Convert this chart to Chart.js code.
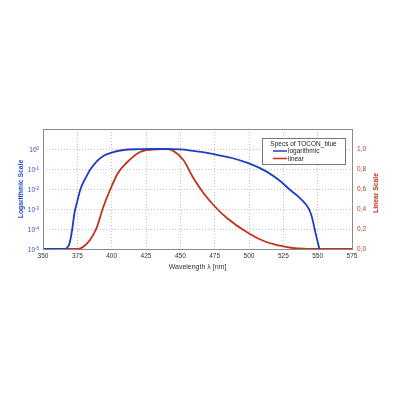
<!DOCTYPE html>
<html>
<head>
<meta charset="utf-8">
<script src="https://cdn.jsdelivr.net/npm/chart.js@4"></script>
<style>
  html, body { margin: 0; padding: 0; background: #fff; }
  #wrap { width: 400px; height: 400px; }
</style>
</head>
<body>
<div id="wrap"><canvas id="grafico" width="400" height="400"></canvas></div>
<script>
// x ticks / axis
const xMin = 350, xMax = 575, xStep = 25;

// logarithmic series (left axis)
const blueNm = [350, 366, 368, 369.3, 371.2, 372.9, 375, 377, 379, 381, 384.2, 389, 393.9, 400, 408.5, 420.6, 430, 440, 450, 465, 475, 487.5, 500, 512.5, 522.7, 530, 537.3, 543.4, 545.8, 548.2, 551.3];
const blueVal = [1e-5, 1e-5, 1.26e-5, 1.9e-5, 8.9e-5, 6.3e-4, 2.5e-3, 8.5e-3, 0.019, 0.035, 0.089, 0.234, 0.447, 0.66, 0.89, 0.98, 1.0, 1.0, 0.95, 0.71, 0.54, 0.355, 0.19, 0.076, 0.025, 0.0089, 0.0034, 0.00107, 4e-4, 7.4e-5, 1e-5];

// linear series (right axis)
const redNm = [350, 375.7, 379.3, 384.2, 389, 393.9, 398.8, 404.6, 410.7, 420.6, 430, 440, 443.7, 452.2, 459.5, 466.8, 474.1, 483.9, 500, 512.5, 522.7, 532, 541.8, 550, 575];
const redVal = [0, 0, 0.023, 0.09, 0.21, 0.42, 0.59, 0.76, 0.86, 0.97, 0.995, 1.0, 0.99, 0.89, 0.71, 0.56, 0.44, 0.31, 0.155, 0.07, 0.033, 0.01, 0.002, 0, 0];

// log axis ticks: base and exponent drawn as 10^exp
const logTicks = [1e-5, 1e-4, 1e-3, 1e-2, 1e-1, 1, 10];
const logExp = ["-5", "-4", "-3", "-2", "-1", "0", ""];

const legendTitle = "Specs of TOCON_blue";
const rightTitle = "Linear Scale";
const blue = "#1f3fbf";
const red = "#c0321e";
const fam = "'Liberation Sans', Arial, sans-serif";

const pontos = (xs, ys) => xs.map((x, i) => ({ x, y: ys[i] }));

const moldura = {
  id: "moldura",
  afterDraw(chart) {
    const { ctx, chartArea: a } = chart;
    ctx.save();
    ctx.strokeStyle = "#8a8a8a";
    ctx.lineWidth = 1;
    ctx.strokeRect(Math.round(a.left) + 0.5, Math.round(a.top) + 0.5,
      Math.round(a.right - a.left), Math.round(a.bottom - a.top));

    // log tick labels with raised exponent
    const ys = chart.scales.y;
    ctx.fillStyle = "#2f55c4";
    ctx.textBaseline = "alphabetic";
    logTicks.forEach((v, i) => {
      if (!logExp[i]) return;
      const py = ys.getPixelForValue(v);
      ctx.font = "4.5px " + fam;
      const ew = ctx.measureText(logExp[i]).width;
      const ex = a.left - 4 - ew;
      ctx.textAlign = "left";
      ctx.fillText(logExp[i], ex, py + 0.5);
      ctx.font = "6.5px " + fam;
      ctx.textAlign = "right";
      ctx.fillText("10", ex, py + 2.5);
    });

    // right axis title, reading bottom to top
    ctx.save();
    ctx.translate(376, (a.top + a.bottom) / 2 + 4);
    ctx.rotate(-Math.PI / 2);
    ctx.font = "bold 6.8px " + fam;
    ctx.fillStyle = red;
    ctx.textAlign = "center";
    ctx.textBaseline = "middle";
    ctx.fillText(rightTitle, 0, 0);
    ctx.restore();

    // legend box inside plot
    const bx = 262, by = 138, bw = 83, bh = 26;
    ctx.fillStyle = "#fff";
    ctx.fillRect(bx, by, bw, bh);
    ctx.strokeStyle = "#777";
    ctx.strokeRect(bx + 0.5, by + 0.5, bw, bh);
    ctx.fillStyle = "#222";
    ctx.font = "6.5px " + fam;
    ctx.textAlign = "center";
    ctx.textBaseline = "middle";
    ctx.fillText(legendTitle, bx + bw / 2, by + 6);
    ctx.textAlign = "left";
    chart.data.datasets.forEach((ds, i) => {
      const y = by + 13 + i * 7.5;
      ctx.strokeStyle = ds.borderColor;
      ctx.lineWidth = 1.5;
      ctx.beginPath();
      ctx.moveTo(bx + 11, y);
      ctx.lineTo(bx + 25, y);
      ctx.stroke();
      ctx.fillStyle = "#222";
      ctx.fillText(ds.label, bx + 26, y + 0.5);
    });
    ctx.restore();
  }
};

const grade = { color: "#c4c4c4", lineWidth: 1, drawTicks: false };

new Chart(document.getElementById("grafico").getContext("2d"), {
  type: "line",
  data: {
    datasets: [
      {
        label: "logarithmic",
        data: pontos(blueNm, blueVal),
        yAxisID: "y",
        borderColor: blue,
        borderWidth: 1.8,
        pointRadius: 0,
        cubicInterpolationMode: "monotone",
        fill: false
      },
      {
        label: "linear",
        data: pontos(redNm, redVal),
        yAxisID: "y1",
        borderColor: red,
        borderWidth: 1.8,
        pointRadius: 0,
        cubicInterpolationMode: "monotone",
        fill: false
      }
    ]
  },
  options: {
    responsive: false,
    animation: false,
    layout: { padding: { top: 129, bottom: 129, left: 17, right: 0 } },
    plugins: { legend: { display: false }, tooltip: { enabled: false } },
    scales: {
      x: {
        type: "linear",
        min: xMin,
        max: xMax,
        ticks: { stepSize: xStep, color: "#333", font: { size: 6.5, family: fam }, padding: 3, maxRotation: 0 },
        grid: grade,
        border: { display: false, dash: [1, 2] },
        title: { display: true, text: "Wavelength \u03BB [nm]", color: "#333", font: { size: 7, family: fam }, padding: { top: 0, bottom: 0 } },
        afterFit(s) { s.height = 22; }
      },
      y: {
        type: "logarithmic",
        position: "left",
        min: 1e-5,
        max: 10,
        afterBuildTicks(s) { s.ticks = logTicks.map(v => ({ value: v })); },
        ticks: { color: "#2f55c4", font: { size: 6.5, family: fam }, padding: 4, callback: () => "" },
        grid: grade,
        border: { display: false, dash: [1, 2] },
        title: { display: true, text: "Logarithmic Scale", color: "#1f4fc8", font: { size: 6.8, weight: "bold", family: fam }, padding: 0 },
        afterFit(s) { s.width = 26; }
      },
      y1: {
        type: "linear",
        position: "right",
        min: 0,
        max: 1.2,
        ticks: {
          stepSize: 0.2,
          color: "#c0392b",
          font: { size: 6.5, family: fam },
          padding: 5,
          callback: v => (v > 1.05 ? "" : v.toFixed(1).replace(".", ","))
        },
        grid: { display: false, drawTicks: false },
        border: { display: false },
        title: { display: false },
        afterFit(s) { s.width = 48; }
      }
    }
  },
  plugins: [moldura]
});
</script>
</body>
</html>
